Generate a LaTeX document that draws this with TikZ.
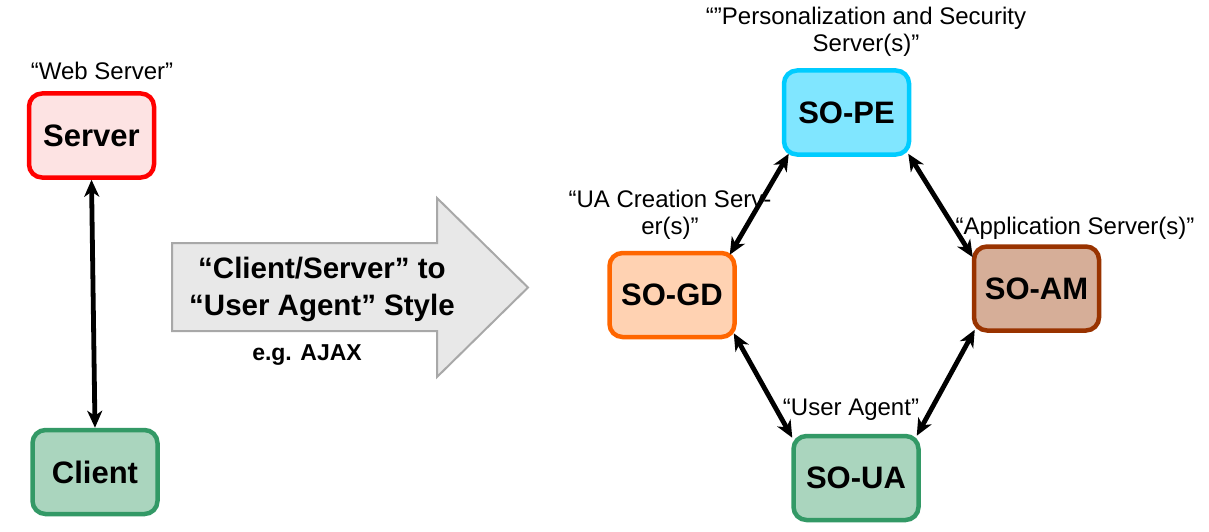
\documentclass[tikz,border=0pt]{standalone}
\usepackage{fontspec}
\setmainfont{Liberation Sans}
\usetikzlibrary{arrows.meta,calc}

\definecolor{srvfill}{RGB}{253,227,227}
\definecolor{srvline}{RGB}{255,0,0}
\definecolor{grnfill}{RGB}{170,213,190}
\definecolor{grnline}{RGB}{51,153,102}
\definecolor{cyanfill}{RGB}{128,230,255}
\definecolor{cyanline}{RGB}{0,204,255}
\definecolor{orgfill}{RGB}{255,210,178}
\definecolor{orgline}{RGB}{255,102,0}
\definecolor{brnfill}{RGB}{214,174,152}
\definecolor{brnline}{RGB}{153,51,0}
\definecolor{arrfill}{RGB}{232,232,232}
\definecolor{arrline}{RGB}{168,168,168}

\tikzset{
  box/.style={rectangle, rounded corners=13pt, line width=4.5pt,
    minimum width=125pt, minimum height=84pt, inner sep=0pt,
    font=\fontsize{31}{34}\selectfont\bfseries},
  lbl/.style={font=\fontsize{24}{27}\selectfont, inner sep=0pt, align=center},
  link/.style={line width=4.8pt, {Stealth[length=17pt,width=15pt,inset=5pt]}-{Stealth[length=17pt,width=15pt,inset=5pt]}},
}

\begin{document}
\begin{tikzpicture}[x=1pt,y=-1pt]
\useasboundingbox (0,0) rectangle (1209,532);

% client/server pair
\node[box, fill=srvfill, draw=srvline] (server) at (91.5,135.5) {Server};
\node[box, fill=grnfill, draw=grnline] (client) at (95,472) {Client};
\node[lbl] (webl) at (102,71) {“Web Server”};
\draw[link] (server.south) -- (client.north);

% transition arrow
\path[fill=arrfill, draw=arrline, line width=2pt]
  (172,243) -- (437,243) -- (437,198) -- (528,287.5) -- (437,377)
  -- (437,331) -- (172,331) -- cycle;
\node[font=\fontsize{29.5}{37}\selectfont\bfseries,
  align=center, inner sep=0pt] (style) at (322,289)
  {“Client/Server” to\\“User Agent” Style};
\node[font=\fontsize{23}{25}\selectfont\bfseries,
  inner sep=0pt] (ajax) at (307,355) {e.g. AJAX};

% user-agent topology
\node[box, fill=cyanfill, draw=cyanline] (pe) at (846.5,112.5) {SO-PE};
\node[box, fill=orgfill, draw=orgline] (gd) at (672,295) {SO-GD};
\node[box, fill=brnfill, draw=brnline] (am) at (1036.5,288.5) {SO-AM};
\node[box, fill=grnfill, draw=grnline] (ua) at (856,478) {SO-UA};

\node[lbl] (pel) at (866,32) {“”Personalization and Security\\Server(s)”};
\node[lbl] (gdl) at (670,215) {“UA Creation Serv-\\er(s)”};
\node[lbl] (aml) at (1075,228) {“Application Server(s)”};
\node[lbl] (ual) at (851,410) {“User Agent”};

\draw[link] ($(pe.south west)+(7,-3)$) -- ($(gd.north east)+(-7,4)$);
\draw[link] ($(pe.south east)+(-3,-3)$) -- ($(am.north west)+(1,13)$);
\draw[link] ($(gd.south east)+(-3,-6)$) -- ($(ua.north west)+(1,4)$);
\draw[link] ($(am.south west)+(3,-3)$) -- ($(ua.north east)+(-4,2)$);
\end{tikzpicture}
\end{document}
